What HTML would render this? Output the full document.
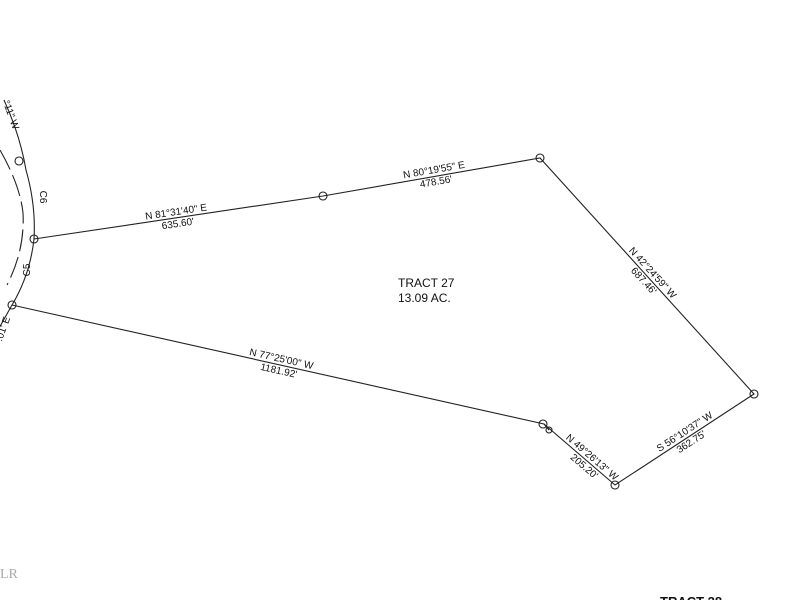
<!DOCTYPE html><html><head><style>body{margin:0;background:#fff}svg{display:block}text{font-family:"Liberation Sans",sans-serif;font-size:10px;fill:#111}</style></head><body>
<svg width="800" height="600" viewBox="0 0 800 600">
<g stroke="#222" stroke-width="1.1" fill="none">
<polyline points="34,239 323,196 540,158 754,394 615,485 544,424 12,305"/>
<path d="M4,100 Q20,135 26,170 Q36,205 34,239 Q30,275 12,305 L-2,330"/>
<path d="M0,150 Q20,185 23,213 Q25,250 7,285" stroke-dasharray="22,6"/>
<path d="M544,424 L549,430"/>
<circle cx="19" cy="161" r="4"/><circle cx="34" cy="239" r="4"/><circle cx="12" cy="305" r="4"/>
<circle cx="323" cy="196" r="4"/><circle cx="540" cy="158" r="4"/><circle cx="754" cy="394" r="4"/>
<circle cx="615" cy="485" r="4"/><circle cx="543" cy="424" r="4"/><circle cx="549" cy="430" r="3"/>
</g>
<text x="398" y="287" style="font-size:12px">TRACT 27</text>
<text x="398" y="302" style="font-size:12px">13.09 AC.</text>
<g text-anchor="middle">
<g transform="translate(177,218) rotate(-8.5)"><text y="-3">N 81°31'40" E</text><text y="9">635.60'</text></g>
<g transform="translate(435,176) rotate(-9.9)"><text y="-3">N 80°19'55" E</text><text y="9">478.56'</text></g>
<g transform="translate(648,277) rotate(47.8)"><text y="-3">N 42°24'59" W</text><text y="9">687.46'</text></g>
<g transform="translate(280,365) rotate(12.6)"><text y="-3">N 77°25'00" W</text><text y="9">1181.92'</text></g>
<g transform="translate(688,437) rotate(-33.2)"><text y="-3">S 56°10'37" W</text><text y="9">362.75'</text></g>
<g transform="translate(588,462) rotate(40.7)"><text y="-3">N 49°26'13" W</text><text y="9">205.20'</text></g>
<text transform="translate(40,197) rotate(90)">C6</text>
<text transform="translate(30,270) rotate(-90)">C5</text>
<text transform="translate(8,116) rotate(70)">°11" W</text>
<text transform="translate(6,330) rotate(-70)">.01' E</text>
</g>
<text x="0" y="578" style="font-size:14px;fill:#aaa;font-family:'Liberation Serif',serif">LR</text>
<text x="660" y="606" style="font-size:13px;font-weight:bold">TRACT 28</text>
</svg></body></html>
